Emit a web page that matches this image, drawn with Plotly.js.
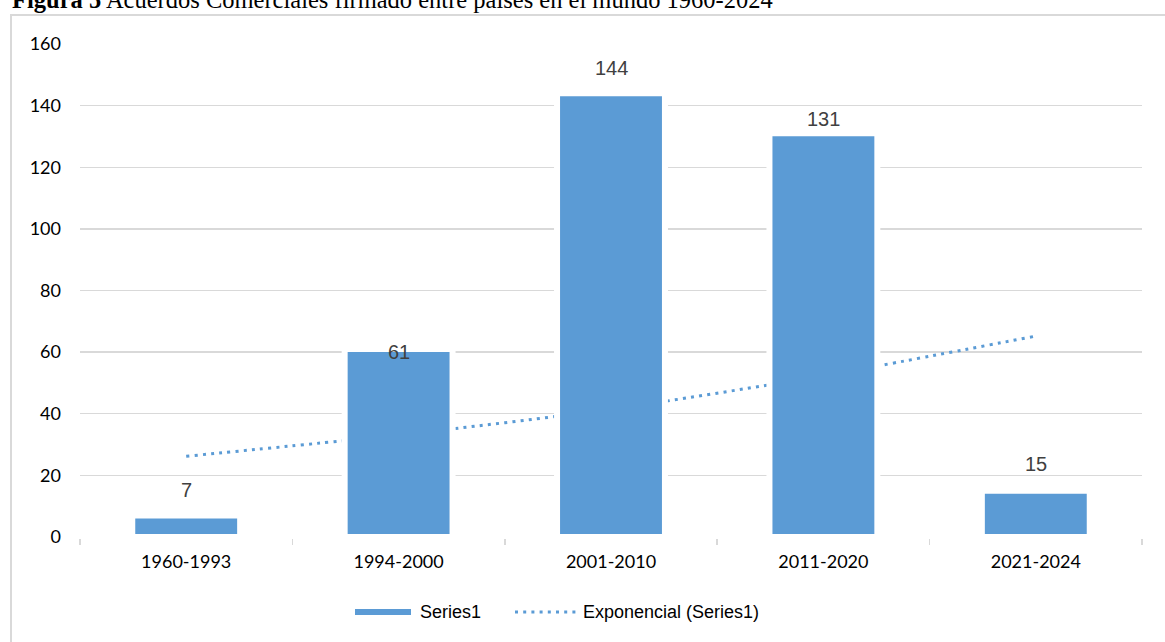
<!DOCTYPE html>
<html>
<head>
<meta charset="utf-8">
<script src="https://cdn.plot.ly/plotly-3.0.1.min.js"></script>
<style>
  html, body { margin: 0; padding: 0; background: #ffffff; }
  #frame { position: absolute; left: 10px; top: 14px; width: 1200px; height: 700px;
           border: 2px solid #d9d9d9; box-sizing: border-box; }
  #chart { position: absolute; left: 0; top: 0; width: 1165px; height: 642px; }
</style>
</head>
<body>
<div id="frame"></div>
<div id="chart"></div>
<script>
// Trade agreements signed per period
const periods = ['1960-1993', '1994-2000', '2001-2010', '2011-2020', '2021-2024'];
const agreements = [7, 61, 144, 131, 15];
// Exponential trendline of the series, evaluated at each period
const trendValues = [26.2, 33.1, 41.4, 52.3, 65.2];
const yTicks = [0, 20, 40, 60, 80, 100, 120, 140, 160];

const blue = '#5B9BD5';
const grid = '#d9d9d9';

// Plot area in pixels (left, right, top of 160, bottom at 0)
const W = 1165, H = 642;
const L = 80, R = 1142, T = 44, B = 537;
const px = x => (x - L) / (R - L);
const py = y => (B - y) / (B - T);

const bars = {
  type: 'bar',
  x: periods,
  y: agreements,
  width: 0.508,
  marker: { color: blue, line: { color: '#ffffff', width: 6 } },
  hoverinfo: 'x+y',
  showlegend: false,
  zorder: 1
};

const trend = {
  type: 'scatter',
  mode: 'lines',
  x: periods,
  y: trendValues,
  line: { color: blue, width: 3, dash: '3px,5.2px', shape: 'spline', smoothing: 0.6 },
  hoverinfo: 'skip',
  showlegend: false,
  zorder: 0
};

// Vertical offset of each value label above its bar top (px)
const labelShift = [25, -3, 25, 14, 27];
const labelFont = { family: 'Liberation Sans, Arial, sans-serif', size: 20, color: '#404040' };

const annotations = agreements.map((v, i) => ({
  x: periods[i], y: v, xref: 'x', yref: 'y',
  text: String(v), showarrow: false,
  yanchor: 'middle', yshift: labelShift[i],
  font: labelFont
}));

// Figure caption above the chart frame
annotations.push({
  xref: 'paper', yref: 'paper', x: px(10), y: py(15),
  xanchor: 'left', yanchor: 'bottom', showarrow: false,
  text: '<b>Figura 5</b> Acuerdos Comerciales firmado entre países en el mundo 1960-2024',
  font: { family: 'Liberation Serif, Times New Roman, serif', size: 24.5, color: '#000000' }
});

// Legend entries
const legendFont = { family: 'Liberation Sans, Arial, sans-serif', size: 18, color: '#000000' };
const legendY = 612;
annotations.push({
  xref: 'paper', yref: 'paper', x: px(418), y: py(legendY),
  xanchor: 'left', yanchor: 'middle', showarrow: false,
  text: 'Series1', font: legendFont
});
annotations.push({
  xref: 'paper', yref: 'paper', x: px(581), y: py(legendY),
  xanchor: 'left', yanchor: 'middle', showarrow: false,
  text: 'Exponencial (Series1)', font: legendFont
});

const shapes = [
  { type: 'line', xref: 'paper', yref: 'paper',
    x0: px(355), x1: px(411), y0: py(legendY), y1: py(legendY),
    line: { color: blue, width: 6 } },
  { type: 'line', xref: 'paper', yref: 'paper',
    x0: px(515), x1: px(578), y0: py(legendY), y1: py(legendY),
    line: { color: blue, width: 3, dash: '3px,5.2px' } }
];

const layout = {
  width: W, height: H,
  margin: { l: L, r: W - R, t: T, b: H - B, pad: 0 },
  paper_bgcolor: 'rgba(0,0,0,0)',
  plot_bgcolor: 'rgba(0,0,0,0)',
  showlegend: false,
  xaxis: {
    type: 'category',
    range: [-0.5, 4.5],
    showgrid: false,
    showline: true, linecolor: grid, linewidth: 1.5,
    ticks: 'outside', tickson: 'boundaries', ticklen: 6, tickwidth: 1.5, tickcolor: grid,
    ticklabelstandoff: 8,
    tickfont: { family: 'Lato, Open Sans, sans-serif', size: 18, color: '#000000' },
    fixedrange: true
  },
  yaxis: {
    range: [0, 160],
    tickvals: yTicks,
    ticktext: yTicks.map(String),
    showgrid: true, gridcolor: grid, gridwidth: 1.3,
    zeroline: false, showline: false, ticks: '',
    ticklabelstandoff: 18,
    tickfont: { family: 'Lato, Open Sans, sans-serif', size: 18, color: '#000000' },
    fixedrange: true
  },
  annotations: annotations,
  shapes: shapes
};

Plotly.newPlot('chart', [trend, bars], layout, { displayModeBar: false, staticPlot: true });
</script>
</body>
</html>
